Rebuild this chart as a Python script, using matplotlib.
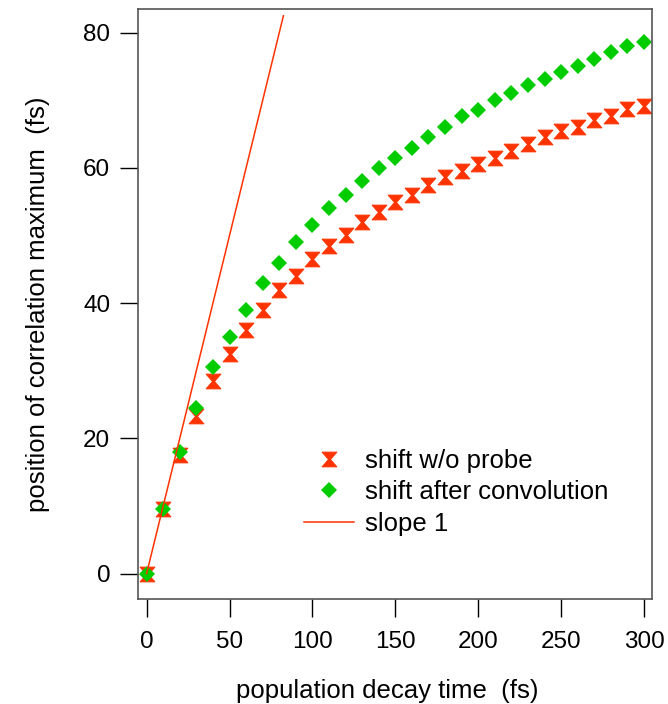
import matplotlib
matplotlib.use('Agg')
import matplotlib.pyplot as plt
from matplotlib.path import Path
import numpy as np

plt.rcParams['font.family'] = ['Liberation Sans', 'DejaVu Sans']

# population decay time (fs)
decay_time = [0, 10, 20, 30, 40, 50, 60, 70, 80, 90, 100, 110, 120, 130, 140, 150,
              160, 170, 180, 190, 200, 210, 220, 230, 240, 250, 260, 270, 280, 290, 300]
# shift w/o probe
shift_no_probe = [0, 9.5, 17.5, 23.3, 28.5, 32.5, 36, 39, 42, 44, 46.5, 48.5, 50, 52,
                  53.5, 55, 56, 57.5, 58.6, 59.6, 60.6, 61.5, 62.5, 63.5, 64.6, 65.5,
                  66.1, 67.1, 67.7, 68.7, 69.1]
# shift after convolution
shift_conv = [0, 9.5, 18, 24.5, 30.5, 35, 39, 43, 46, 49, 51.6, 54, 56, 58, 60, 61.5,
              63, 64.6, 66.1, 67.6, 68.6, 70.1, 71.1, 72.2, 73.2, 74.2, 75.1, 76.1,
              77.1, 78, 78.6]
# slope 1 reference line
slope_x = [0, 82.5]
slope_y = [0, 82.5]

RED = '#ff3300'
GREEN = '#00cc00'

# hourglass marker: two triangles meeting at the centre
hourglass = Path([(-1, 1), (1, 1), (0.12, 0), (1, -1), (-1, -1), (-0.12, 0), (-1, 1)],
                 [Path.MOVETO, Path.LINETO, Path.LINETO, Path.LINETO,
                  Path.LINETO, Path.LINETO, Path.CLOSEPOLY])

fig = plt.figure(figsize=(6.68, 7.04), dpi=100)
ax = fig.add_axes([138 / 668, 105 / 704, 514 / 668, 590 / 704])

ax.plot(decay_time, shift_no_probe, linestyle='none', marker=hourglass,
        markersize=10.5, color=RED, markeredgewidth=0.8, label='shift w/o probe')
ax.plot(decay_time, shift_conv, linestyle='none', marker='D',
        markersize=8.2, color=GREEN, markeredgewidth=0, label='shift after convolution')
ax.plot(slope_x, slope_y, color=RED, linewidth=1.1, label='slope 1')

ax.set_xlim(-5.2, 304.8)
ax.set_ylim(-3.77, 83.5)
ax.set_xticks([0, 50, 100, 150, 200, 250, 300])
ax.set_yticks([0, 20, 40, 60, 80])

for s in ax.spines.values():
    s.set_color('#555555')
    s.set_linewidth(1.2)

ax.tick_params(direction='out', length=13, width=1, colors='black',
               labelsize=17.5)
ax.tick_params(axis='x', pad=10)
ax.tick_params(axis='y', pad=7)

ax.set_xlabel('population decay time  (fs)', fontsize=18.5)
ax.xaxis.set_label_coords(0.485, -0.136)
ax.set_ylabel('position of correlation maximum  (fs)', fontsize=18.5, labelpad=24)

ax.legend(loc='upper left', bbox_to_anchor=(0.323, 0.255), frameon=False,
          fontsize=18.5, borderpad=0, borderaxespad=0, handlelength=1.95,
          handletextpad=0.43, labelspacing=0.3)

fig.savefig('out.png', dpi=100)
